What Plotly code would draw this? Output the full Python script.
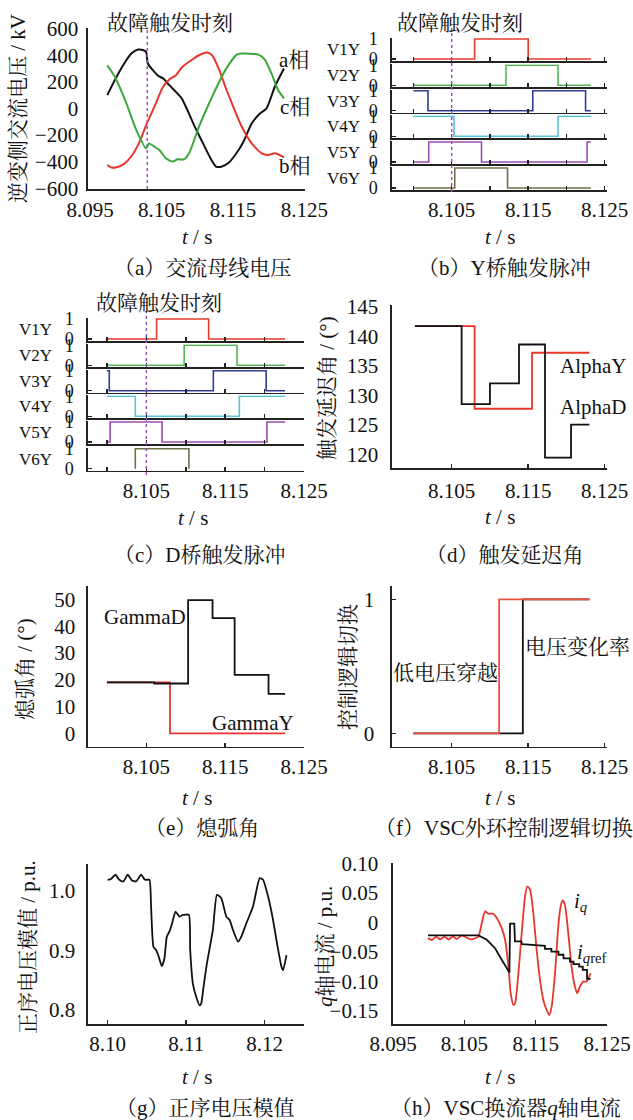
import plotly.graph_objects as go

W, H = 633, 1120
SERIF = "Liberation Serif, Noto Serif CJK SC, Noto Sans CJK SC, serif"
RED = "#e8362c"
BLACK = "#111111"
FAULT = "#9b55b8"

# ---------------- (a) AC bus voltage ----------------
a_fault_t = 8.103
a_t_black = [8.09740, 8.09846, 8.09962, 8.10077, 8.10170, 8.10248, 8.10285, 8.10308, 8.10378, 8.10461,
             8.10525, 8.10609, 8.10701, 8.10784, 8.10863, 8.10955, 8.11070, 8.11186, 8.11264, 8.11338,
             8.11440, 8.11532, 8.11648, 8.11763, 8.11879, 8.11971, 8.12087, 8.12216]
a_v_black = [100, 213, 325, 413, 443, 438, 425, 338, 288, 243, 225, 175, 125, 75, -13, -125, -250, -375,
             -438, -438, -408, -350, -250, -113, -38, 0, 163, 300]
a_t_red = [8.09740, 8.09800, 8.09870, 8.09985, 8.10100, 8.10193, 8.10294, 8.10401, 8.10516, 8.10609,
           8.10701, 8.10793, 8.10932, 8.11024, 8.11140, 8.11209, 8.11301, 8.11394, 8.11486, 8.11625,
           8.11763, 8.11902, 8.11994, 8.12087, 8.12216]
a_v_red = [-425, -445, -443, -413, -343, -250, -113, 13, 158, 218, 250, 313, 368, 400, 420, 400, 300, 163,
           38, -138, -263, -338, -350, -338, -368]
a_t_green = [8.09740, 8.09846, 8.10008, 8.10147, 8.10285, 8.10322, 8.10401, 8.10470, 8.10562, 8.10655,
             8.10724, 8.10816, 8.10886, 8.11024, 8.11209, 8.11394, 8.11555, 8.11625, 8.11856, 8.11948,
             8.12040, 8.12133, 8.12216]
a_v_green = [325, 238, 38, -163, -300, -263, -288, -313, -375, -400, -383, -383, -338, -138, 88, 288, 405,
             413, 405, 368, 263, 138, 75]
a_yticks = [-600, -400, -200, 0, 200, 400, 600]
a_ytext = ["−600", "−400", "−200", "0", "200", "400", "600"]
a_xticks = [8.095, 8.105, 8.115, 8.125]

# ---------------- (b) Y bridge pulses ----------------
pulse_names = ["V1Y", "V2Y", "V3Y", "V4Y", "V5Y", "V6Y"]
pulse_colors = ["#e53a2e", "#55b455", "#2e3c96", "#56c4d6", "#9b4db3", "#6f6f48"]
b_fault_t = 8.105
b_t = [
    [8.1000, 8.1080, 8.1150, 8.1232],
    [8.1000, 8.1121, 8.1189, 8.1232],
    [8.1000, 8.1019, 8.1156, 8.1225, 8.1232],
    [8.1000, 8.1053, 8.1189, 8.1232],
    [8.1000, 8.1020, 8.1089, 8.1227, 8.1232],
    [8.1000, 8.1054, 8.1123, 8.1232],
]
b_v = [
    [0, 1, 0, 0],
    [0, 1, 0, 0],
    [1, 0, 1, 0, 0],
    [1, 0, 1, 1],
    [0, 1, 0, 1, 1],
    [0, 1, 0, 0],
]
# ---------------- (c) D bridge pulses ----------------
c_fault_t = 8.105
c_t = [
    [8.1000, 8.1063, 8.1129, 8.1226],
    [8.1000, 8.1098, 8.1165, 8.1226],
    [8.1000, 8.1003, 8.1135, 8.1202, 8.1226],
    [8.1000, 8.1036, 8.1168, 8.1226],
    [8.1000, 8.1004, 8.1070, 8.1203, 8.1226],
    [8.1036, 8.1036, 8.1104],
]
c_v = [
    [0, 1, 0, 0],
    [0, 1, 0, 0],
    [1, 0, 1, 0, 0],
    [1, 0, 1, 1],
    [0, 1, 0, 1, 1],
    [0, 1, 0],
]
pulse_xticks = [8.100, 8.105, 8.110, 8.115, 8.120, 8.125]
pulse_xtext = ["", "8.105", "", "8.115", "", "8.125"]

# ---------------- (d) firing angle ----------------
d_t_alphaY = [8.1002, 8.1080, 8.1155, 8.1230]
d_v_alphaY = [141.7, 127.7, 137.2, 137.2]
d_t_alphaD = [8.1002, 8.1063, 8.1100, 8.1138, 8.1172, 8.1206, 8.1230]
d_v_alphaD = [141.7, 128.5, 132.0, 138.6, 119.4, 125.0, 125.0]
d_yticks = [120, 125, 130, 135, 140, 145]

# ---------------- (e) extinction angle ----------------
e_t_gammaD = [8.1000, 8.1060, 8.1103, 8.1134, 8.1162, 8.1205, 8.1226]
e_v_gammaD = [19.0, 18.6, 49.7, 43.0, 21.8, 14.7, 14.7]
e_t_gammaY = [8.1000, 8.1080, 8.1226]
e_v_gammaY = [19.0, 0.0, 0.0]
e_yticks = [0, 10, 20, 30, 40, 50]

# ---------------- (f) control logic switch ----------------
f_t_rate = [8.1000, 8.1143, 8.1230]
f_v_rate = [0, 1, 1]
f_t_lvrt = [8.1000, 8.1112, 8.1230]
f_v_lvrt = [0, 1, 1]

# ---------------- (g) positive-sequence voltage ----------------
g_t = [8.1000, 8.10043, 8.10098, 8.10149, 8.1020, 8.10255, 8.1031, 8.10362, 8.10426, 8.10477,
       8.10532, 8.10553, 8.10583, 8.10617, 8.10651, 8.10689, 8.10723, 8.10753, 8.10787, 8.10821,
       8.10864, 8.10915, 8.10957, 8.11034, 8.11051, 8.11085, 8.11128, 8.1117, 8.11191, 8.11221,
       8.11264, 8.1134, 8.11391, 8.11447, 8.11511, 8.11553, 8.11596, 8.1166, 8.11702, 8.11766,
       8.11851, 8.11936, 8.11979, 8.12043, 8.12106, 8.12149, 8.12213, 8.12234, 8.12277]
g_v = [1.0185, 1.0197, 1.0270, 1.0185, 1.0157, 1.0270, 1.0174, 1.0157, 1.0270, 1.0185,
       1.0185, 0.9736, 0.9062, 0.9006, 0.8893, 0.8736, 0.8865, 0.9230, 0.9315, 0.9455,
       0.9652, 0.9567, 0.9596, 0.9596, 0.9006, 0.8444, 0.8219, 0.8079, 0.8107, 0.8388,
       0.8781, 0.9343, 0.9933, 0.9876, 0.9567, 0.9511, 0.9343, 0.9146, 0.9230, 0.9455,
       0.9736, 1.0213, 1.0185, 0.9904, 0.9511, 0.9174, 0.8725, 0.8669, 0.8921]
g_xticks = [8.10, 8.11, 8.12]
g_xtext = ["8.10", "8.11", "8.12"]
g_yticks = [0.8, 0.9, 1.0]
g_ytext = ["0.8", "0.9", "1.0"]

# ---------------- (h) q-axis current ----------------
h_t_iq = [8.0999, 8.10045, 8.10106, 8.10162, 8.10223, 8.10279, 8.10339, 8.10395, 8.10465, 8.10535,
          8.10591, 8.10652, 8.10698, 8.10745, 8.10791, 8.10838, 8.10908, 8.10955, 8.11024, 8.11071,
          8.11118, 8.1115, 8.11188, 8.11211, 8.11258, 8.11304, 8.11351, 8.11383, 8.11421, 8.11467,
          8.11514, 8.11561, 8.11607, 8.11654, 8.11691, 8.11724, 8.11771, 8.11817, 8.1185, 8.11878,
          8.1191, 8.11957, 8.12003, 8.1205, 8.12083, 8.1212, 8.12167, 8.12213, 8.12251, 8.12269]
h_v_iq = [-0.0267, -0.0300, -0.0240, -0.0290, -0.0240, -0.0290, -0.0240, -0.0280, -0.0220, -0.0260,
          -0.0290, -0.0270, -0.0239, -0.0011, 0.0188, 0.0148, 0.0148, 0.0074, -0.0097, -0.0295,
          -0.0750, -0.1205, -0.1403, -0.1375, -0.0864, -0.0182, 0.0443, 0.0614, 0.0557, 0.0159,
          -0.0466, -0.0977, -0.1318, -0.1489, -0.1574, -0.1432, -0.0864, -0.0068, 0.0273, 0.0375,
          0.0301, -0.0182, -0.0750, -0.1091, -0.1205, -0.1091, -0.1006, -0.1006, -0.0920, -0.0864]
h_t_iqref = [8.0999, 8.1070, 8.10815, 8.10931, 8.11024, 8.11132, 8.11141, 8.1120, 8.1121, 8.1130,
             8.1131, 8.1147, 8.1163, 8.1163, 8.1172, 8.1172, 8.1182, 8.1182, 8.1189, 8.1189,
             8.1198, 8.1198, 8.1203, 8.1203, 8.1211, 8.1211, 8.1216, 8.1216, 8.1222, 8.1222, 8.1227]
h_v_iqref = [-0.0222, -0.0222, -0.0295, -0.0438, -0.0636, -0.0852, -0.0022, -0.0022, -0.0324, -0.0324,
             -0.0369, -0.0380, -0.0400, -0.0450, -0.0450, -0.0495, -0.0495, -0.0550, -0.0550, -0.0610,
             -0.0610, -0.0665, -0.0665, -0.0710, -0.0710, -0.0750, -0.0750, -0.0807, -0.0807, -0.0960, -0.0960]
h_yticks = [-0.15, -0.10, -0.05, 0, 0.05, 0.10]
h_ytext = ["−0.15", "−0.10", "−0.05", "0", "0.05", "0.10"]

main_xticks = [8.105, 8.115, 8.125]


# ================= layout helpers =================
def fx(px):
    return px / W


def fy(py):
    return 1 - py / H


fig = go.Figure()
layout = dict(width=W, height=H, margin=dict(l=0, r=0, t=0, b=0, pad=0, autoexpand=False),
              plot_bgcolor="rgba(0,0,0,0)", paper_bgcolor="white", showlegend=False,
              font=dict(family=SERIF, size=21, color="#111"))
annotations = []
shapes = []
counter = [0]


def add_axes(x0, x1, ytop, ybot, xr, yr, xticks=None, xtext=None, yticks=None, ytext=None,
             xticklen=4, yticklen=0, xfont=21, yfont=21, xstand=0, ystand=3):
    counter[0] += 1
    n = counter[0]
    sx = "" if n == 1 else str(n)
    xa = dict(domain=[fx(x0), fx(x1)], range=xr, anchor="y" + sx, showgrid=False, zeroline=False,
              automargin=False, showline=True, linecolor="#222", linewidth=1.6,
              ticks="inside" if xticklen else "", ticklen=xticklen, tickwidth=1.5, tickcolor="#222",
              tickfont=dict(size=xfont, family=SERIF, color="#111"), ticklabelstandoff=xstand)
    if xticks is not None:
        xa.update(tickmode="array", tickvals=xticks, ticktext=xtext if xtext is not None else [str(v) for v in xticks])
    ya = dict(domain=[fy(ybot), fy(ytop)], range=yr, anchor="x" + sx, showgrid=False, zeroline=False,
              automargin=False, showline=True, linecolor="#222", linewidth=1.6,
              ticks="inside" if yticklen else "", ticklen=yticklen, tickwidth=1.5, tickcolor="#222",
              tickfont=dict(size=yfont, family=SERIF, color="#111"), ticklabelstandoff=ystand)
    if yticks is not None:
        ya.update(tickmode="array", tickvals=yticks, ticktext=ytext if ytext is not None else [str(v) for v in yticks])
    layout["xaxis" + sx] = xa
    layout["yaxis" + sx] = ya
    return "x" + sx, "y" + sx


def line(xref, yref, t, v, color, width=1.8, shape="linear", smoothing=None):
    ln = dict(color=color, width=width, shape=shape)
    if smoothing is not None:
        ln["smoothing"] = smoothing
    fig.add_trace(go.Scatter(x=t, y=v, mode="lines", line=ln, xaxis=xref, yaxis=yref, hoverinfo="skip"))


def text(px, py, s, size=21, xanchor="center", yanchor="middle", angle=0, family=SERIF):
    annotations.append(dict(x=fx(px), y=fy(py), xref="paper", yref="paper", text=s, showarrow=False,
                            xanchor=xanchor, yanchor=yanchor, textangle=angle,
                            font=dict(size=size, family=family, color="#111")))


def vline(xref, t, ytop, ybot):
    shapes.append(dict(type="line", xref=xref, yref="paper", x0=t, x1=t, y0=fy(ybot), y1=fy(ytop),
                       line=dict(color=FAULT, width=1.5, dash="dot")))


T_S = "<i>t</i> / s"

# ---- (a)
xa, ya = add_axes(88, 305, 28, 189, [8.0947, 8.1251], [-606, 605], a_xticks, [f"{v:.3f}" for v in a_xticks],
                  a_yticks, a_ytext, xticklen=0, xstand=1, ystand=4)
line(xa, ya, a_t_black, a_v_black, BLACK, 2, "spline", 0.6)
line(xa, ya, a_t_red, a_v_red, RED, 2, "spline", 0.6)
line(xa, ya, a_t_green, a_v_green, "#3aa83a", 2, "spline", 0.6)
vline(xa, a_fault_t, 28, 189)
text(170, 23, "故障触发时刻")
text(277, 60, "a相", xanchor="left")
text(278, 107, "c相", xanchor="left")
text(277, 166, "b相", xanchor="left")
text(18, 109, "逆变侧交流电压 / kV", angle=-90)
text(197, 237, T_S)
text(202, 268, "（a）交流母线电压")


# ---- (b) & (c) pulse panels
def pulse_panel(x0, x1, bottoms, xr, tt, vv, label_right, fault_t, fault_top, fault_bot):
    refs = []
    for i, b in enumerate(bottoms):
        last = i == len(bottoms) - 1
        xr_, yr_ = add_axes(x0, x1, b - 23, b, xr, [-0.1, 1.05], pulse_xticks,
                            pulse_xtext if last else [" "] * len(pulse_xticks), [0, 1], ["0", "1"],
                            xticklen=4, yticklen=4, yfont=18, xstand=0, ystand=9)
        line(xr_, yr_, tt[i], vv[i], pulse_colors[i], 1.6, "hv")
        text(label_right, b - 11.5, pulse_names[i], size=17, xanchor="right")
        refs.append(xr_)
    vline(refs[0], fault_t, fault_top, fault_bot)


pulse_panel(392, 607, [61, 87.3, 112.7, 138.3, 164, 190], [8.0972, 8.1253], b_t, b_v, 362, b_fault_t, 28, 192)
text(460, 23, "故障触发时刻")
text(500, 237, T_S)
text(505, 268, "（b）Y桥触发脉冲")

pulse_panel(88, 304, [341, 367.3, 392.7, 418.3, 444, 470.7], [8.0976, 8.1250], c_t, c_v, 54, c_fault_t, 312, 475)
text(159, 303, "故障触发时刻")
text(193, 518, T_S)
text(200, 555, "（c）D桥触发脉冲")

# ---- (d)
xd, yd = add_axes(392, 607, 305, 468.3, [8.0972, 8.1253], [117.6, 145.3], main_xticks,
                  [f"{v:.3f}" for v in main_xticks], d_yticks, [str(v) for v in d_yticks], xstand=3, ystand=8)
line(xd, yd, d_t_alphaY, d_v_alphaY, RED, 1.8, "hv")
line(xd, yd, d_t_alphaD, d_v_alphaD, BLACK, 1.8, "hv")
text(558, 366, "AlphaY", xanchor="left")
text(558, 407, "AlphaD", xanchor="left")
text(327, 388, "触发延迟角 / (°)", angle=-90)
text(500, 517, T_S)
text(505, 555, "（d）触发延迟角")

# ---- (e)
xe, ye = add_axes(88, 304, 586, 746.7, [8.0976, 8.1250], [-5, 55], main_xticks,
                  [f"{v:.3f}" for v in main_xticks], e_yticks, [str(v) for v in e_yticks], xstand=0, ystand=7)
line(xe, ye, e_t_gammaY, e_v_gammaY, RED, 1.8, "hv")
line(xe, ye, e_t_gammaD, e_v_gammaD, BLACK, 1.8, "hv")
text(102, 617, "GammaD", xanchor="left")
text(210, 723, "GammaY", xanchor="left")
text(25, 669, "熄弧角 / (°)", angle=-90)
text(197, 798, T_S)
text(202, 828, "（e）熄弧角")

# ---- (f)
xf, yf = add_axes(392, 607, 586, 746.7, [8.0972, 8.1253], [-0.1, 1.1], main_xticks,
                  [f"{v:.3f}" for v in main_xticks], [0, 1], ["0", "1"], yticklen=4, xstand=0, ystand=12)
line(xf, yf, f_t_rate, f_v_rate, BLACK, 1.8, "hv")
line(xf, yf, f_t_lvrt, f_v_lvrt, "#ee5040", 1.8, "hv")
text(445, 673, "低电压穿越")
text(577, 647, "电压变化率")
text(348, 667, "控制逻辑切换", angle=-90)
text(500, 798, T_S)
text(504, 828, "（f）VSC外环控制逻辑切换")

# ---- (g)
xg, yg = add_axes(88, 304, 864, 1024, [8.0975, 8.1250], [0.7765, 1.045], g_xticks, g_xtext,
                  g_yticks, g_ytext, xstand=0, ystand=7)
line(xg, yg, g_t, g_v, BLACK, 1.8, "spline", 0.5)
text(28, 947, "正序电压模值 / p.u.", angle=-90)
text(197, 1077, T_S)
text(205, 1108, "（g）正序电压模值")

# ---- (h)
xh, yh = add_axes(393, 607, 863, 1024, [8.095, 8.125], [-0.1727, 0.101], [8.095, 8.105, 8.115, 8.125],
                  ["8.095", "8.105", "8.115", "8.125"], h_yticks, h_ytext, xstand=0, ystand=9)
line(xh, yh, h_t_iq, h_v_iq, RED, 1.8, "spline", 0.6)
line(xh, yh, h_t_iqref, h_v_iqref, BLACK, 1.8)
text(572, 902, "<i>i</i><sub><i>q</i></sub>", xanchor="left")
text(575, 953, "<i>i</i><sub><i>q</i>ref</sub>", xanchor="left")
text(325, 947, "<i>q</i>轴电流 / p.u.", angle=-90)
text(500, 1077, T_S)
text(506, 1108, "（h）VSC换流器<i>q</i>轴电流")

layout["annotations"] = annotations
layout["shapes"] = shapes
fig.update_layout(**layout)
fig.write_html("out.html", config={"displayModeBar": False, "staticPlot": True},
               post_script="document.body.style.margin='0';document.body.style.overflow='hidden';")
